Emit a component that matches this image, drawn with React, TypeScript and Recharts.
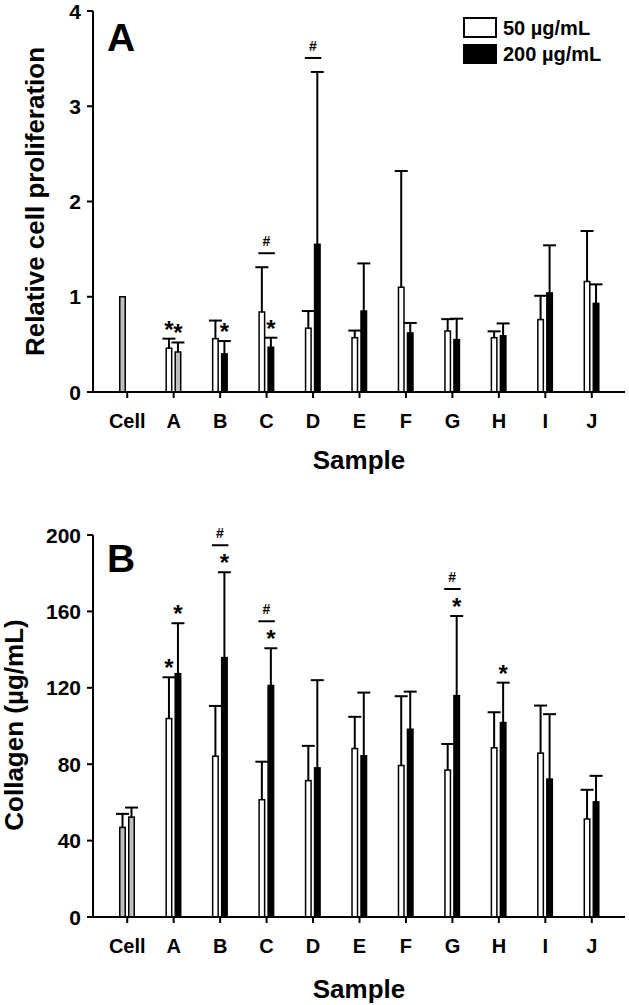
import React from 'react';
import { BarChart, Bar, XAxis, YAxis, Legend, Customized } from 'recharts';

// ---------- data ----------
const categories = ['Cell', 'A', 'B', 'C', 'D', 'E', 'F', 'G', 'H', 'I', 'J'];
const seriesNames = ['50 µg/mL', '200 µg/mL'];

// Panel A: relative cell proliferation
const prolif50 = [1.0, 0.46, 0.56, 0.84, 0.67, 0.57, 1.1, 0.64, 0.57, 0.76, 1.16];
const prolif50Err = [0, 0.1, 0.19, 0.47, 0.18, 0.075, 1.22, 0.125, 0.067, 0.25, 0.53];
const prolif200 = [null, 0.42, 0.4, 0.47, 1.55, 0.85, 0.62, 0.55, 0.59, 1.04, 0.93];
const prolif200Err = [null, 0.1, 0.135, 0.1, 1.81, 0.5, 0.105, 0.22, 0.13, 0.5, 0.2];
const prolifStar50 = [false, true, false, false, false, false, false, false, false, false, false];
const prolifStar200 = [false, true, true, true, false, false, false, false, false, false, false];
const prolifHash = [false, false, false, true, true, false, false, false, false, false, false];
const prolifTicks = [0, 1, 2, 3, 4];

// Panel B: collagen (µg/mL)
const coll50 = [46.9, 103.9, 84.2, 61.4, 71.4, 88.2, 79.3, 76.9, 88.6, 85.8, 51.3];
const coll50Err = [7.1, 21.6, 26.3, 19.9, 18.2, 16.6, 36.3, 13.7, 18.6, 24.9, 15.3];
const coll200 = [52.3, 127.4, 135.8, 121.2, 78.1, 84.4, 98.3, 115.9, 101.8, 72.2, 60.3];
const coll200Err = [5.0, 26.4, 44.7, 19.5, 45.9, 33.1, 19.7, 41.7, 20.9, 34.0, 13.6];
const collStar50 = [false, true, false, false, false, false, false, false, false, false, false];
const collStar200 = [false, true, true, true, false, false, false, true, true, false, false];
const collHash = [false, false, true, true, false, false, false, true, false, false, false];
const collTicks = [0, 40, 80, 120, 160, 200];

// ---------- helpers ----------
const FONT = '"Liberation Sans", Arial, Helvetica, sans-serif';
const GRAY = '#c0c0c0';

type Row = {
  cat: string;
  v50: number | null;
  e50: number | null;
  v200: number | null;
  e200: number | null;
  s50: boolean;
  s200: boolean;
  hash: boolean;
};

function buildRows(
  v50: (number | null)[],
  e50: (number | null)[],
  v200: (number | null)[],
  e200: (number | null)[],
  s50: boolean[],
  s200: boolean[],
  hash: boolean[]
): Row[] {
  return categories.map((cat, i) => ({
    cat,
    v50: v50[i],
    e50: e50[i],
    v200: v200[i],
    e200: e200[i],
    s50: s50[i],
    s200: s200[i],
    hash: hash[i],
  }));
}

const rowsA = buildRows(prolif50, prolif50Err, prolif200, prolif200Err, prolifStar50, prolifStar200, prolifHash);
const rowsB = buildRows(coll50, coll50Err, coll200, coll200Err, collStar50, collStar200, collHash);

function makeShape(kind: '50' | '200') {
  return (props: any) => {
    const { x, y, width, height, payload, index } = props;
    const value = kind === '50' ? payload.v50 : payload.v200;
    const err = (kind === '50' ? payload.e50 : payload.e200) || 0;
    if (value == null || !height) return <g />;
    const ppu = height / value;
    const baseY = y + height;
    const cx = x + width / 2;
    const errTop = y - err * ppu;
    const isCell = index === 0;
    const fill = isCell ? GRAY : kind === '50' ? '#ffffff' : '#000000';
    const star = kind === '50' ? payload.s50 : payload.s200;
    const els: any[] = [];
    els.push(
      <rect key="r" x={x + 0.75} y={y} width={width - 1.5} height={height} fill={fill} stroke="#000" strokeWidth={1.5} />
    );
    if (err > 0) {
      els.push(<line key="e" x1={cx} y1={y} x2={cx} y2={errTop} stroke="#000" strokeWidth={2} />);
      els.push(<line key="c" x1={cx - 6.5} y1={errTop} x2={cx + 6.5} y2={errTop} stroke="#000" strokeWidth={2} />);
    }
    if (star) {
      els.push(
        <text key="s" x={cx} y={errTop - 1} textAnchor="middle" fontFamily={FONT} fontWeight="bold" fontSize={24} fill="#000">
          *
        </text>
      );
    }
    if (kind === '200' && payload.hash) {
      const errTopW = baseY - ((payload.v50 || 0) + (payload.e50 || 0)) * ppu;
      const cands = [errTopW - 14, errTop - 14];
      if (star) cands.push(errTop - 27);
      const lineY = Math.min(...cands);
      els.push(<line key="hl" x1={x - 9} y1={lineY} x2={x + 7.5} y2={lineY} stroke="#000" strokeWidth={2} />);
      els.push(
        <text key="ht" x={x - 1} y={lineY - 7} textAnchor="middle" fontFamily={FONT} fontWeight="bold" fontSize={14} fill="#000">
          #
        </text>
      );
    }
    return <g>{els}</g>;
  };
}

const XTick = (dy: number) => (p: any) => (
  <text x={p.x} y={p.y + dy} textAnchor="middle" fontFamily={FONT} fontWeight="bold" fontSize={20} fill="#000">
    {p.payload.value}
  </text>
);

const YTick = (dx: number) => (p: any) => (
  <text x={p.x + dx} y={p.y + 7.5} textAnchor="end" fontFamily={FONT} fontWeight="bold" fontSize={21} fill="#000">
    {p.payload.value}
  </text>
);

const LegendBox = () => (
  <svg width={170} height={50} style={{ display: 'block' }}>
    <rect x={1} y={1} width={32} height={19} fill="#fff" stroke="#000" strokeWidth={2} />
    <rect x={0} y={27} width={34} height={20} fill="#000" />
    <text x={40} y={18.2} fontFamily={FONT} fontWeight="bold" fontSize={20} fill="#000">
      {seriesNames[0]}
    </text>
    <text x={40} y={44.2} fontFamily={FONT} fontWeight="bold" fontSize={20} fill="#000">
      {seriesNames[1]}
    </text>
  </svg>
);

const PanelTextA = () => (
  <g fontFamily={FONT} fontWeight="bold" fill="#000">
    <text x={107} y={51} fontSize={39}>A</text>
    <text x={44} y={201.5} fontSize={26} textAnchor="middle" transform="rotate(-90 44 201.5)">
      Relative cell proliferation
    </text>
    <text x={359} y={469} fontSize={26} textAnchor="middle">Sample</text>
  </g>
);

const PanelTextB = () => (
  <g fontFamily={FONT} fontWeight="bold" fill="#000">
    <text x={107} y={102} fontSize={39}>B</text>
    <text x={22.6} y={255} fontSize={26} textAnchor="middle" transform="rotate(-90 22.6 255)">
      Collagen (µg/mL)
    </text>
    <text x={359} y={528} fontSize={26} textAnchor="middle">Sample</text>
  </g>
);

const axisStroke = { stroke: '#000', strokeWidth: 2 };

export default function App() {
  return (
    <div style={{ position: 'absolute', left: 0, top: 0, width: 629, height: 1005, background: '#fff' }}>
      <div style={{ position: 'absolute', left: 0, top: 470 }}>
        <BarChart
          width={629}
          height={535}
          data={rowsB}
          margin={{ top: 65, right: 4, bottom: 58, left: 33 }}
          barSize={7}
          barGap={2}
        >
          <XAxis
            dataKey="cat"
            padding={{ left: 11, right: 10 }}
            height={30}
            tickSize={6}
            tickMargin={2}
            axisLine={axisStroke}
            tickLine={axisStroke}
            tick={XTick(28)}
            interval={0}
          />
          <YAxis
            domain={[0, 200]}
            ticks={collTicks}
            width={60}
            tickSize={6}
            tickMargin={2}
            axisLine={axisStroke}
            tickLine={axisStroke}
            tick={YTick(-4)}
          />
          <Bar dataKey="v50" name={seriesNames[0]} isAnimationActive={false} shape={makeShape('50')} />
          <Bar dataKey="v200" name={seriesNames[1]} isAnimationActive={false} shape={makeShape('200')} />
          <Customized component={PanelTextB} />
        </BarChart>
      </div>
      <div style={{ position: 'absolute', left: 0, top: 0 }}>
        <BarChart
          width={629}
          height={482}
          data={rowsA}
          margin={{ top: 11, right: 4, bottom: 60, left: 33 }}
          barSize={7}
          barGap={2}
        >
          <XAxis
            dataKey="cat"
            padding={{ left: 11, right: 10 }}
            height={30}
            tickSize={6}
            tickMargin={2}
            axisLine={axisStroke}
            tickLine={axisStroke}
            tick={XTick(27.5)}
            interval={0}
          />
          <YAxis
            domain={[0, 4]}
            ticks={prolifTicks}
            width={60}
            tickSize={6}
            tickMargin={2}
            axisLine={axisStroke}
            tickLine={axisStroke}
            tick={YTick(-4)}
          />
          <Legend
            layout="horizontal"
            verticalAlign="middle"
            align="center"
            wrapperStyle={{ position: 'absolute', left: 463, top: 17, width: 170, height: 50 }}
            content={() => <LegendBox />}
          />
          <Bar dataKey="v50" name={seriesNames[0]} isAnimationActive={false} shape={makeShape('50')} />
          <Bar dataKey="v200" name={seriesNames[1]} isAnimationActive={false} shape={makeShape('200')} />
          <Customized component={PanelTextA} />
        </BarChart>
      </div>
    </div>
  );
}
